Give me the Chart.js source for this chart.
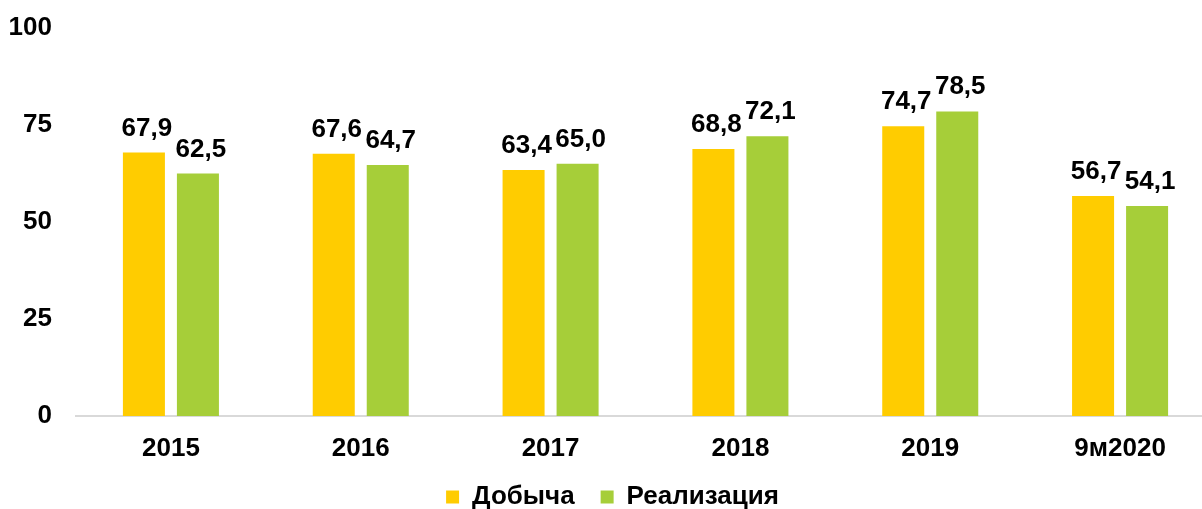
<!DOCTYPE html>
<html lang="ru">
    <head>
        <meta charset="UTF-8" />
        <title>Добыча и реализация</title>
        <script src="https://cdn.jsdelivr.net/npm/chart.js"></script>
        <style>
            html, body { margin: 0; padding: 0; background: #fff; overflow: hidden; }
            #wrap { width: 1202px; height: 509px; overflow: hidden; }
        </style>
    </head>
    <body>
        <div id="wrap">
            <canvas id="mainChart" width="1215" height="520"></canvas>
        </div>

        <script>
            // Данные
            const years = ["2015", "2016", "2017", "2018", "2019", "9м2020"];
            const dobycha = [67.9, 67.6, 63.4, 68.8, 74.7, 56.7];
            const realizaciya = [62.5, 64.7, 65.0, 72.1, 78.5, 54.1];
            const yTicks = [0, 25, 50, 75, 100];

            const FONT = '"Liberation Sans", Arial, sans-serif';

            // подписи значений над столбцами
            const valueLabels = {
                id: "valueLabels",
                afterDatasetsDraw(chart) {
                    const ctx = chart.ctx;
                    ctx.save();
                    ctx.font = "bold 26px " + FONT;
                    ctx.fillStyle = "#000";
                    ctx.textAlign = "center";
                    ctx.textBaseline = "alphabetic";
                    chart.data.datasets.forEach((ds, i) => {
                        chart.getDatasetMeta(i).data.forEach((bar, j) => {
                            const txt = ds.data[j].toFixed(1).replace(".", ",");
                            ctx.fillText(txt, bar.x + 3, bar.y - 17);
                        });
                    });
                    ctx.restore();
                },
            };

            new Chart(document.getElementById("mainChart"), {
                type: "bar",
                data: {
                    labels: years,
                    datasets: [
                        {
                            label: "Добыча",
                            data: dobycha,
                            backgroundColor: "#FFCC00",
                            categoryPercentage: 0.569,
                            barPercentage: 0.778,
                        },
                        {
                            label: "Реализация",
                            data: realizaciya,
                            backgroundColor: "#A6CE39",
                            categoryPercentage: 0.569,
                            barPercentage: 0.778,
                        },
                    ],
                },
                options: {
                    responsive: false,
                    animation: false,
                    layout: { padding: { left: 10, top: 28, right: 0, bottom: 0 } },
                    plugins: {
                        tooltip: { enabled: false },
                        legend: {
                            position: "bottom",
                            labels: {
                                color: "#000",
                                font: { family: FONT, size: 26, weight: "bold" },
                                boxWidth: 13,
                                boxHeight: 13,
                                padding: 26,
                            },
                        },
                    },
                    scales: {
                        x: {
                            grid: { display: false, drawTicks: false },
                            border: { display: true, color: "#D9D9D9", width: 2 },
                            ticks: {
                                color: "#000",
                                padding: 17,
                                font: { family: FONT, size: 26, weight: "bold" },
                            },
                            afterFit: (axis) => {
                                axis.height = 42;
                                axis.paddingLeft = 0;
                                axis.paddingRight = 0;
                            },
                        },
                        y: {
                            min: 0,
                            max: 100,
                            grid: { display: false, drawTicks: false },
                            border: { display: false },
                            afterBuildTicks: (axis) => {
                                axis.ticks = yTicks.map((v) => ({ value: v }));
                            },
                            ticks: {
                                color: "#000",
                                padding: 24,
                                font: { family: FONT, size: 26, weight: "bold" },
                            },
                            afterFit: (axis) => {
                                axis.width = 66;
                                axis.paddingTop = 0;
                                axis.paddingBottom = 0;
                            },
                        },
                    },
                },
                plugins: [valueLabels],
            });
        </script>
    </body>
</html>
